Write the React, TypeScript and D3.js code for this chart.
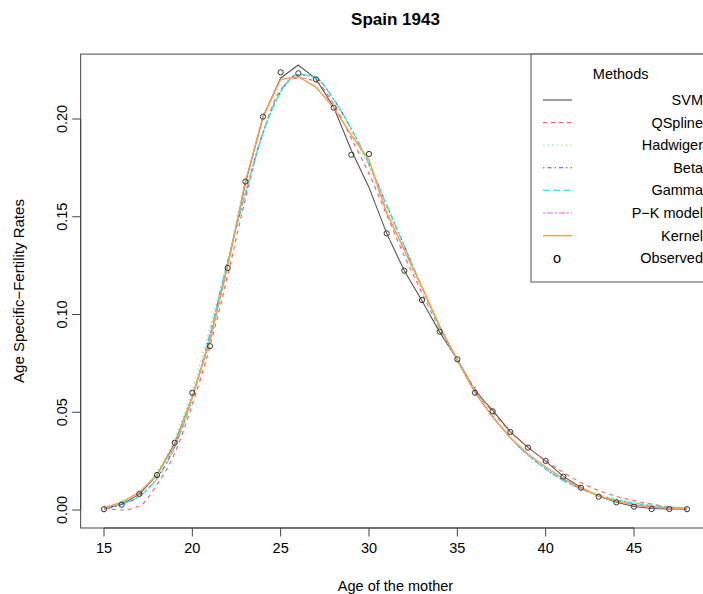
import React from "react";
import * as d3 from "d3";

const ages = [15,16,17,18,19,20,21,22,23,24,25,26,27,28,29,30,31,32,33,34,35,36,37,38,39,40,41,42,43,44,45,46,47,48];
const observed = [0.0004,0.0027,0.0082,0.0179,0.0344,0.0600,0.0838,0.1238,0.1680,0.2012,0.2239,0.2234,0.2203,0.2058,0.1817,0.1821,0.1415,0.1224,0.1074,0.0912,0.0771,0.0600,0.0505,0.0399,0.0319,0.0251,0.0171,0.0114,0.0068,0.0039,0.0017,0.0005,0.0005,0.0004];
const svm = [0.0005,0.0030,0.0080,0.0180,0.0340,0.0580,0.0870,0.1250,0.1670,0.2010,0.2210,0.2276,0.2205,0.2060,0.1840,0.1650,0.1415,0.1224,0.1070,0.0910,0.0770,0.0610,0.0510,0.0400,0.0320,0.0250,0.0172,0.0115,0.0070,0.0040,0.0018,0.0008,0.0006,0.0005];
const qspline = [0.0010,0.0000,0.0020,0.0130,0.0290,0.0540,0.0840,0.1200,0.1590,0.1930,0.2150,0.2210,0.2190,0.2075,0.1900,0.1720,0.1510,0.1300,0.1110,0.0925,0.0765,0.0620,0.0500,0.0400,0.0320,0.0252,0.0192,0.0140,0.0100,0.0070,0.0048,0.0030,0.0015,0.0008];
const hadwiger = [0.0020,0.0040,0.0090,0.0195,0.0365,0.0615,0.0930,0.1280,0.1620,0.1920,0.2130,0.2225,0.2210,0.2100,0.1940,0.1750,0.1540,0.1330,0.1120,0.0930,0.0760,0.0610,0.0480,0.0370,0.0280,0.0210,0.0155,0.0112,0.0080,0.0056,0.0039,0.0027,0.0018,0.0012];
const beta = [0.0005,0.0028,0.0072,0.0165,0.0325,0.0575,0.0900,0.1270,0.1620,0.1930,0.2140,0.2228,0.2210,0.2100,0.1950,0.1770,0.1560,0.1350,0.1140,0.0940,0.0770,0.0610,0.0480,0.0370,0.0282,0.0210,0.0152,0.0108,0.0074,0.0050,0.0032,0.0019,0.0010,0.0004];
const gamma = [0.0010,0.0030,0.0070,0.0160,0.0320,0.0570,0.0900,0.1270,0.1620,0.1930,0.2140,0.2228,0.2210,0.2100,0.1950,0.1770,0.1560,0.1350,0.1140,0.0940,0.0770,0.0610,0.0480,0.0370,0.0280,0.0210,0.0150,0.0110,0.0075,0.0052,0.0035,0.0023,0.0015,0.0010];
const pkmodel = [0.0010,0.0040,0.0090,0.0180,0.0330,0.0580,0.0870,0.1250,0.1680,0.2010,0.2203,0.2216,0.2162,0.2058,0.1918,0.1790,0.1520,0.1330,0.1140,0.0940,0.0765,0.0600,0.0475,0.0370,0.0285,0.0220,0.0160,0.0110,0.0072,0.0045,0.0026,0.0015,0.0010,0.0008];
const kernel = [0.0010,0.0040,0.0090,0.0180,0.0330,0.0580,0.0870,0.1250,0.1680,0.2010,0.2203,0.2216,0.2162,0.2058,0.1918,0.1790,0.1520,0.1330,0.1140,0.0940,0.0765,0.0600,0.0475,0.0370,0.0285,0.0220,0.0160,0.0110,0.0072,0.0045,0.0026,0.0015,0.0010,0.0008];

const xTicks = [15,20,25,30,35,40,45];
const yTicks = [0,0.05,0.10,0.15,0.20];
const yTickLabels = ["0.00","0.05","0.10","0.15","0.20"];
const methodNames = ["SVM","QSpline","Hadwiger","Beta","Gamma","P\u2212K model","Kernel","Observed"];

const W = 703, H = 594;
const x = d3.scaleLinear().domain([15, 48]).range([104, 687]);
const y = d3.scaleLinear().domain([0, 0.2]).range([510, 119]);

const FONT = "'Liberation Sans', Arial, Helvetica, sans-serif";

type Series = { name: string; values: number[]; color: string; dash: string; smooth: boolean; width: number };

const seriesList: Series[] = [
  { name: "SVM", values: svm, color: "#555555", dash: "", smooth: false, width: 1.1 },
  { name: "QSpline", values: qspline, color: "#ff5a5a", dash: "4,4", smooth: true, width: 1.1 },
  { name: "Hadwiger", values: hadwiger, color: "#90ee90", dash: "1.5,3", smooth: true, width: 1.3 },
  { name: "Beta", values: beta, color: "#4a4aff", dash: "1.5,3,4,3", smooth: true, width: 1.1 },
  { name: "Gamma", values: gamma, color: "#33e6e6", dash: "7,3", smooth: true, width: 1.2 },
  { name: "P\u2212K model", values: pkmodel, color: "#ff55ff", dash: "2,2,6,2", smooth: false, width: 1.0 },
  { name: "Kernel", values: kernel, color: "#ffa040", dash: "", smooth: false, width: 1.4 },
];

export default function App() {
  const x0 = x(13.68), x1 = x(49.32);
  const yTop = y(0.2332), yBot = y(-0.0092);
  const mkLine = (s: Series) =>
    d3.line<number>()
      .x((_, i) => x(ages[i]))
      .y((v) => y(v))
      .curve(s.smooth ? d3.curveMonotoneX : d3.curveLinear)(s.values) || "";

  const legX = 531, legTop = yTop, legBot = 282;
  const rowY = (i: number) => 100 + i * 22.6;
  const FS = 14.5;

  return (
    <svg width={W} height={H} style={{ position: "absolute", left: 0, top: 0, background: "#fff" }} fontFamily={FONT}>
      <rect x={0} y={0} width={W} height={H} fill="#fff" />
      <text x={(x0 + x1) / 2} y={25} textAnchor="middle" fontWeight="bold" fontSize={17}>Spain 1943</text>

      <g>
        {seriesList.map((s) => (
          <path key={s.name} d={mkLine(s)} fill="none" stroke={s.color} strokeWidth={s.width} strokeDasharray={s.dash || undefined} />
        ))}
        {observed.map((v, i) => (
          <circle key={i} cx={x(ages[i])} cy={y(v)} r={2.6} fill="none" stroke="#333" strokeWidth={1} />
        ))}
      </g>

      <rect x={x0} y={yTop} width={x1 - x0} height={yBot - yTop} fill="none" stroke="#444" strokeWidth={1} />

      {/* x axis */}
      <line x1={x(15)} x2={x(45)} y1={yBot} y2={yBot} stroke="#444" />
      {xTicks.map((t) => (
        <g key={t}>
          <line x1={x(t)} x2={x(t)} y1={yBot} y2={yBot + 8.5} stroke="#444" />
          <text x={x(t)} y={553} textAnchor="middle" fontSize={FS}>{t}</text>
        </g>
      ))}
      <text x={(x0 + x1) / 2} y={591} textAnchor="middle" fontSize={FS}>Age of the mother</text>

      {/* y axis */}
      <line x1={x0} x2={x0} y1={y(0)} y2={y(0.2)} stroke="#444" />
      {yTicks.map((t, i) => (
        <g key={t}>
          <line x1={x0} x2={x0 - 8.5} y1={y(t)} y2={y(t)} stroke="#444" />
          <text transform={`translate(67,${y(t)}) rotate(-90)`} textAnchor="middle" fontSize={FS}>{yTickLabels[i]}</text>
        </g>
      ))}
      <text transform={`translate(24,${(yTop + yBot) / 2}) rotate(-90)`} textAnchor="middle" fontSize={15}>Age Specific{"\u2212"}Fertility Rates</text>

      {/* legend */}
      <rect x={legX} y={legTop} width={x1 - legX} height={legBot - legTop} fill="#fff" stroke="#555" strokeWidth={1} />
      <text x={(legX + x1) / 2} y={79} textAnchor="middle" fontSize={FS}>Methods</text>
      {methodNames.map((name, i) => {
        const s = seriesList[i];
        const cy = rowY(i);
        return (
          <g key={name}>
            {s ? (
              <line x1={543} x2={572} y1={cy} y2={cy} stroke={s.color} strokeWidth={s.width} strokeDasharray={s.dash || undefined} />
            ) : (
              <text x={557} y={cy + 5} textAnchor="middle" fontSize={FS}>o</text>
            )}
            <text x={703} y={cy + 5} textAnchor="end" fontSize={FS}>{name}</text>
          </g>
        );
      })}
    </svg>
  );
}
